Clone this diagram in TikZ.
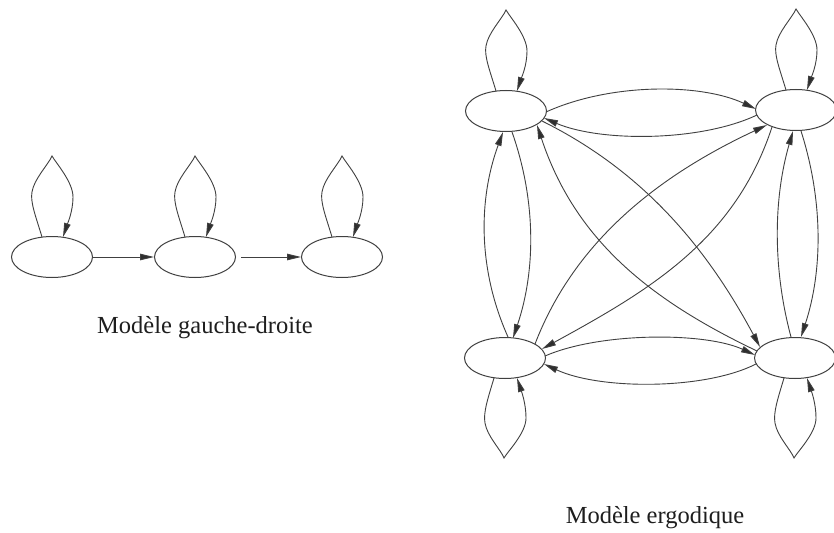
\documentclass[tikz,border=0pt]{standalone}
\usepackage{fontspec}
\setmainfont{Liberation Serif}
\usetikzlibrary{arrows.meta,shapes.geometric}
\definecolor{linec}{HTML}{404040}
\definecolor{headc}{HTML}{2E2E2E}
\definecolor{textc}{HTML}{1E1E1E}
\newcommand\uploop[1]{\begin{scope}[shift={(#1.center)}]
  \draw[edge] (-10,-20) .. controls (-16,-40) and (-22,-55) .. (-20,-65)
    .. controls (-18,-78) and (-4,-92) .. (0,-101)
    .. controls (4,-94) and (21,-75) .. (21,-60)
    .. controls (21,-45) and (15,-32) .. (11,-20);
\end{scope}}
\newcommand\downloop[1]{\begin{scope}[shift={(#1.center)}]
  \draw[edge] (-11,20) .. controls (-17,40) and (-22,55) .. (-20,65)
    .. controls (-18,78) and (-4,92) .. (-1,100)
    .. controls (3,93) and (21,75) .. (21,60)
    .. controls (21,45) and (16,32) .. (12,20);
\end{scope}}
\begin{document}
\begin{tikzpicture}[x=1pt,y=-1pt,
  state/.style={draw=linec, line width=1pt, ellipse, minimum width=81pt, minimum height=41pt, inner sep=0pt},
  edge/.style={draw=linec, line width=0.9pt, -{Triangle[length=14pt,width=6.5pt,fill=headc]}},
  caption/.style={font=\fontsize{24.5}{29}\selectfont, text=textc, anchor=base}]
\useasboundingbox[fill=white] (0,0) rectangle (834,532);

% left-right model
\node[state] (A) at (52,257) {};
\node[state] (B) at (195,257) {};
\node[state] (C) at (342,257) {};
\draw[edge] (A) -- (B);
\draw[edge,shorten <=5pt] (B) -- (C);
\uploop{A}
\uploop{B}
\uploop{C}
\node[caption] (cap1) at (205,333) {Modèle gauche-droite};

% ergodic model
\node[state] (TL) at (506,111) {};
\node[state] (TR) at (796,110) {};
\node[state] (BL) at (505,358) {};
\node[state] (BR) at (795,358) {};
\uploop{TL}
\uploop{TR}
\downloop{BL}
\downloop{BR}

\draw[edge] ([shift={(40,1)}]TL.center) .. controls (610,83) and (700,83) .. ([shift={(-40,-1)}]TR.center);
\draw[edge] ([shift={(-39,5)}]TR.center) .. controls (700,142) and (600,142) .. ([shift={(38,7)}]TL.center);
\draw[edge] ([shift={(3,-21)}]BL.center) .. controls (478,270) and (478,200) .. ([shift={(-3,21)}]TL.center);
\draw[edge] ([shift={(6,21)}]TL.center) .. controls (536,200) and (536,270) .. ([shift={(8,-20)}]BL.center);
\draw[edge] ([shift={(36,10)}]TL.center) .. controls (645,172) and (708,250) .. ([shift={(-35,-11)}]BR.center);
\draw[edge] ([shift={(-38,-7)}]BR.center) .. controls (650,300) and (575,240) .. ([shift={(31,14)}]TL.center);
\draw[edge] ([shift={(-24,17)}]TR.center) .. controls (735,240) and (650,290) .. ([shift={(37,-9)}]BL.center);
\draw[edge] ([shift={(30,-14)}]BL.center) .. controls (575,240) and (660,175) .. ([shift={(-29,15)}]TR.center);
\draw[edge] ([shift={(5,21)}]TR.center) .. controls (823,200) and (823,270) .. ([shift={(6,-21)}]BR.center);
\draw[edge] ([shift={(-4,-21)}]BR.center) .. controls (773,270) and (773,200) .. ([shift={(-3,21)}]TR.center);
\draw[edge] ([shift={(40,-2)}]BL.center) .. controls (600,332) and (705,332) .. ([shift={(-40,-3)}]BR.center);
\draw[edge] ([shift={(-39,6)}]BR.center) .. controls (705,390) and (600,390) .. ([shift={(39,6)}]BL.center);

\node[caption] (cap2) at (655,523) {Modèle ergodique};
\end{tikzpicture}
\end{document}
